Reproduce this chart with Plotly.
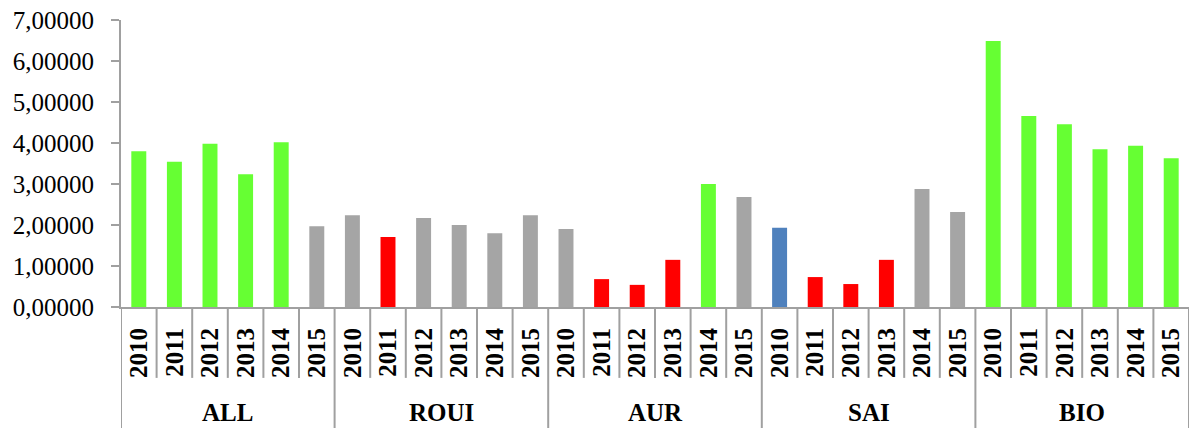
import plotly.graph_objects as go

groups = ["ALL", "ROUI", "AUR", "SAI", "BIO"]
years = ["2010", "2011", "2012", "2013", "2014", "2015"]

values = {
    "ALL":  [3.80, 3.54, 3.98, 3.24, 4.02, 1.97],
    "ROUI": [2.24, 1.71, 2.17, 2.00, 1.80, 2.24],
    "AUR":  [1.90, 0.68, 0.54, 1.15, 3.00, 2.68],
    "SAI":  [1.93, 0.73, 0.56, 1.15, 2.88, 2.32],
    "BIO":  [6.49, 4.66, 4.46, 3.85, 3.93, 3.63],
}
classes = {
    "ALL":  ["g", "g", "g", "g", "g", "n"],
    "ROUI": ["n", "r", "n", "n", "n", "n"],
    "AUR":  ["n", "r", "r", "r", "g", "n"],
    "SAI":  ["b", "r", "r", "r", "n", "n"],
    "BIO":  ["g", "g", "g", "g", "g", "g"],
}
y_ticks = [0, 1, 2, 3, 4, 5, 6, 7]

palette = {"g": "#66FF33", "n": "#A5A5A5", "r": "#FF0000", "b": "#4F81BD"}

xs, ys, cols, labels = [], [], [], []
i = 0
for g in groups:
    for j, yr in enumerate(years):
        xs.append(i)
        ys.append(values[g][j])
        cols.append(palette[classes[g][j]])
        labels.append(yr)
        i += 1
n = len(xs)
ng = len(years)

fig = go.Figure(go.Bar(x=xs, y=ys, marker=dict(color=cols, line=dict(width=0)), width=0.42))

axis_col = "#A0A0A0"
font_family = "Liberation Serif, Tinos, Times New Roman, serif"

shapes = []
for k in range(n + 1):
    xpos = k - 0.5
    if k % ng == 0:
        y0 = -0.4216
    else:
        y0 = -0.247
    shapes.append(dict(type="line", xref="x", yref="paper", x0=xpos, x1=xpos,
                       y0=0, y1=y0, line=dict(color=axis_col, width=2)))

annotations = []
for gi, g in enumerate(groups):
    annotations.append(dict(x=gi * ng + (ng - 1) / 2, y=-0.366, xref="x", yref="paper",
                            text=g, showarrow=False, xanchor="center", yanchor="middle",
                            font=dict(family=font_family, size=25, color="black", weight="bold")))

fig.update_layout(
    width=1192, height=428,
    margin=dict(l=121, r=3, t=20, b=121, autoexpand=False),
    paper_bgcolor="white", plot_bgcolor="white",
    separators=", ",
    showlegend=False,
    font=dict(family=font_family),
    shapes=shapes,
    annotations=annotations,
    xaxis=dict(range=[-0.5, n - 0.5], tickmode="array", tickvals=xs, ticktext=labels,
               tickangle=-90, showgrid=False, zeroline=False, showline=True,
               linecolor=axis_col, linewidth=2, ticks="", ticklabelstandoff=9,
               tickfont=dict(family=font_family, size=25, color="black", weight="bold"),
               automargin=False),
    yaxis=dict(range=[0, 7], tickmode="array", tickvals=y_ticks, tickformat=".5f",
               showgrid=False, zeroline=False, showline=True, linecolor=axis_col,
               linewidth=2, ticks="outside", ticklen=8, tickcolor=axis_col, tickwidth=2,
               ticklabelstandoff=12,
               tickfont=dict(family=font_family, size=25, color="black"),
               automargin=False),
)

fig.write_html("out.html")
